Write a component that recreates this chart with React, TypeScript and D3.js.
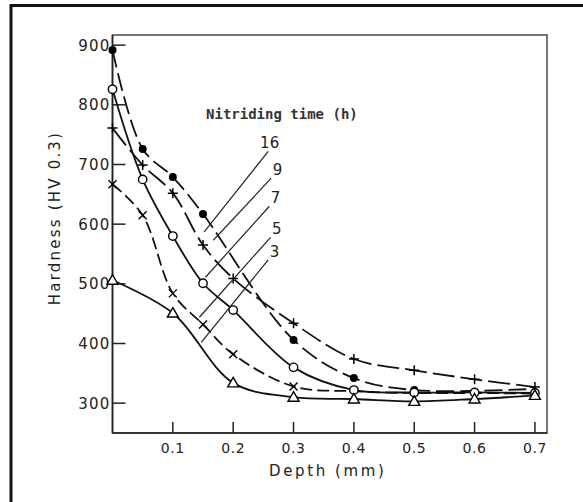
import * as d3 from "d3";

// depths (mm) shared by all curves
const depths = [0, 0.05, 0.1, 0.15, 0.2, 0.3, 0.4, 0.5, 0.6, 0.7];

// hardness HV0.3 per nitriding time, null = no reading
const h16 = [892, 726, 679, 617, null, 406, 342, 322, null, 324];
const h9 = [761, 699, 652, 565, 509, 434, 374, 355, 340, 327];
const h7 = [826, 675, 580, 501, 456, 360, 322, 318, 318, 317];
const h5 = [667, 615, 484, 432, 382, 328, 320, 317, 317, 316];
const h3 = [506, null, 451, null, 334, 310, 307, 303, 307, 313];

const xTicks = [0.1, 0.2, 0.3, 0.4, 0.5, 0.6, 0.7];
const yTicks = [300, 400, 500, 600, 700, 800, 900];

// leader lines for the time labels: [depth, hardness] label end -> curve end
const leaderTop = [[0.258, 722], [0.263, 677], [0.26, 630], [0.262, 578], [0.258, 540]];
const leaderEnd = [[0.152, 587], [0.167, 573], [0.154, 511], [0.144, 444], [0.147, 402]];

const series = [
  { label: "16", values: h16, marker: "dot", dash: "18 6", lastMark: 7 },
  { label: "9", values: h9, marker: "plus", dash: "22 6", lastMark: 9 },
  { label: "7", values: h7, marker: "circle", dash: null, lastMark: 9 },
  { label: "5", values: h5, marker: "cross", dash: "12 5", lastMark: 5 },
  { label: "3", values: h3, marker: "tri", dash: null, lastMark: 9 },
];

const W = 583;
const H = 502;
const x = d3.scaleLinear().domain([0, 0.72]).range([112.5, 547]);
const y = d3.scaleLinear().domain([250, 917]).range([433, 35]);

const sans = "'DejaVu Sans', sans-serif";

function Marker({ type, cx, cy }: { type: string; cx: number; cy: number }) {
  if (type === "dot") return <circle cx={cx} cy={cy} r={4} fill="#000" />;
  if (type === "circle")
    return <circle cx={cx} cy={cy} r={4.2} fill="#fff" stroke="#000" strokeWidth={1.4} />;
  if (type === "plus")
    return (
      <path
        d={`M${cx - 5},${cy}H${cx + 5}M${cx},${cy - 5}V${cy + 5}`}
        stroke="#000"
        strokeWidth={1.5}
        fill="none"
      />
    );
  if (type === "cross")
    return (
      <path
        d={`M${cx - 4},${cy - 4}L${cx + 4},${cy + 4}M${cx - 4},${cy + 4}L${cx + 4},${cy - 4}`}
        stroke="#000"
        strokeWidth={1.4}
        fill="none"
      />
    );
  // triangle
  return (
    <path
      d={`M${cx},${cy - 5.5}L${cx + 5.5},${cy + 4}L${cx - 5.5},${cy + 4}Z`}
      fill="#fff"
      stroke="#000"
      strokeWidth={1.4}
    />
  );
}

export default function App() {
  const line = d3
    .line<[number, number]>()
    .x((d) => x(d[0]))
    .y((d) => y(d[1]))
    .curve(d3.curveCatmullRom.alpha(0.5));

  const [x0, x1] = x.range();
  const [y0, y1] = y.range();

  return (
    <svg
      width={W}
      height={H}
      style={{ position: "absolute", left: 0, top: 0, background: "#fff" }}
    >
      {/* outer frame */}
      <path d={`M11,${H}V5.5H${W}`} fill="none" stroke="#111" strokeWidth={3} />

      {/* plot frame */}
      <rect
        x={x0}
        y={y1}
        width={x1 - x0}
        height={y0 - y1}
        fill="none"
        stroke="#555"
        strokeWidth={1.6}
      />
      <line x1={x0} x2={x0} y1={y1} y2={y0} stroke="#222" strokeWidth={1.6} />
      <line x1={x0} x2={x1} y1={y0} y2={y0} stroke="#222" strokeWidth={1.6} />

      {/* y ticks */}
      {yTicks.map((t) => (
        <g key={t}>
          <line x1={x0} x2={x0 + 13} y1={y(t)} y2={y(t)} stroke="#222" strokeWidth={1.5} />
          <text
            x={x0 - 2}
            y={y(t)}
            dy="0.36em"
            textAnchor="end"
            fontFamily={sans}
            fontSize={15}
            letterSpacing={1.2}
            fill="#222"
          >
            {t}
          </text>
        </g>
      ))}

      {/* x ticks */}
      {xTicks.map((t) => (
        <g key={t}>
          <line x1={x(t)} x2={x(t)} y1={y0} y2={y0 - 11} stroke="#222" strokeWidth={1.5} />
          <text
            x={x(t)}
            y={453}
            textAnchor="middle"
            fontFamily={sans}
            fontSize={14}
            letterSpacing={0.6}
            fill="#222"
          >
            {t.toFixed(1)}
          </text>
        </g>
      ))}

      {/* axis titles */}
      <text
        x={(x0 + x1) / 2 - 2}
        y={476}
        textAnchor="middle"
        fontFamily={sans}
        fontSize={15}
        letterSpacing={2.6}
        fill="#222"
      >
        Depth (mm)
      </text>
      <text
        transform={`translate(60,218) rotate(-90)`}
        textAnchor="middle"
        fontFamily={sans}
        fontSize={15}
        letterSpacing={2.2}
        fill="#222"
      >
        Hardness (HV 0.3)
      </text>

      {/* curves */}
      {series.map((s) => {
        const pts = depths
          .map((d, i) => [d, s.values[i]] as [number, number | null])
          .filter((p) => p[1] !== null) as [number, number][];
        return (
          <path
            key={s.label}
            d={line(pts) || ""}
            fill="none"
            stroke="#111"
            strokeWidth={1.8}
            strokeDasharray={s.dash || undefined}
          />
        );
      })}

      {/* markers */}
      {series.map((s) =>
        depths.map((d, i) => {
          const v = s.values[i];
          if (v === null || i > s.lastMark) return null;
          return <Marker key={s.label + "-" + i} type={s.marker} cx={x(d)} cy={y(v)} />;
        })
      )}

      {/* legend title and leader lines */}
      <text
        x={x(0.155)}
        y={y(776)}
        fontFamily="'DejaVu Sans Mono', monospace"
        fontWeight="bold"
        fontSize={14}
        fill="#333"
      >
        Nitriding time (h)
      </text>
      {series.map((s, i) => (
        <g key={"lbl" + s.label}>
          <line
            x1={x(leaderTop[i][0])}
            y1={y(leaderTop[i][1])}
            x2={x(leaderEnd[i][0])}
            y2={y(leaderEnd[i][1])}
            stroke="#222"
            strokeWidth={1.2}
          />
          <text
            x={x(leaderTop[i][0]) + 11}
            y={y(leaderTop[i][1]) - 3}
            textAnchor="end"
            fontFamily={sans}
            fontSize={15}
            fill="#222"
          >
            {s.label}
          </text>
        </g>
      ))}
    </svg>
  );
}
